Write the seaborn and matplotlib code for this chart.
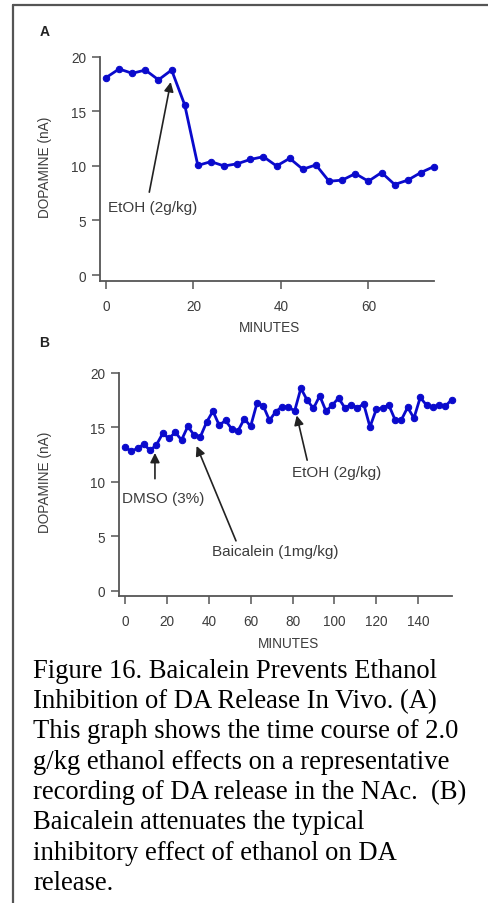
import numpy as np
import matplotlib
matplotlib.use("Agg")
import matplotlib.pyplot as plt
import pandas as pd
import seaborn as sns
from matplotlib.lines import Line2D

# panel A: ethanol alone
minutes_a = [0, 3, 6, 9, 12, 15, 18, 21, 24, 27, 30, 33, 36, 39, 42, 45, 48,
             51, 54, 57, 60, 63, 66, 69, 72, 75]
dopamine_a = [18.1, 18.9, 18.5, 18.8, 17.9, 18.8, 15.6, 10.05, 10.4, 10.0,
              10.2, 10.6, 10.85, 10.0, 10.7, 9.7, 10.1, 8.6, 8.7, 9.3, 8.6,
              9.4, 8.3, 8.7, 9.4, 9.95]

# panel B: DMSO, baicalein, then ethanol
minutes_b = [0, 3, 6, 9, 12, 15, 18, 21, 24, 27, 30, 33, 36, 39, 42, 45, 48,
             51, 54, 57, 60, 63, 66, 69, 72, 75, 78, 81, 84, 87, 90, 93, 96,
             99, 102, 105, 108, 111, 114, 117, 120, 123, 126, 129, 132, 135,
             138, 141, 144, 147, 150, 153, 156]
dopamine_b = [13.2, 12.8, 13.1, 13.45, 12.9, 13.4, 14.45, 14.0, 14.55, 13.85,
              15.1, 14.3, 14.15, 15.5, 16.5, 15.2, 15.65, 14.85, 14.7, 15.8,
              15.1, 17.2, 17.0, 15.65, 16.45, 16.9, 16.9, 16.5, 18.6, 17.5,
              16.75, 17.9, 16.5, 17.05, 17.7, 16.8, 17.1, 16.8, 17.15, 15.05,
              16.65, 16.8, 17.05, 15.7, 15.7, 16.85, 15.85, 17.75, 17.05, 16.9,
              17.05, 16.95, 17.55]

yticks = [0, 5, 10, 15, 20]
xticks_a = [0, 20, 40, 60]
xticks_b = [0, 20, 40, 60, 80, 100, 120, 140]

caption = ("Figure 16. Baicalein Prevents Ethanol\n"
           "Inhibition of DA Release In Vivo. (A)\n"
           "This graph shows the time course of 2.0\n"
           "g/kg ethanol effects on a representative\n"
           "recording of DA release in the NAc.  (B)\n"
           "Baicalein attenuates the typical\n"
           "inhibitory effect of ethanol on DA\n"
           "release.")

sns.set_style("ticks")
plt.rcParams["font.family"] = ["Liberation Sans", "DejaVu Sans"]

W, H = 489, 904
fig = plt.figure(figsize=(W / 100, H / 100), dpi=100)
fig.patch.set_facecolor("white")

BLUE = "#0a0acc"
GREY = "#3c3c3c"
TICK_FS = 9.8
NOTE_FS = 11


def make_axes(left_px, right_px, top_px, bottom_px):
    return fig.add_axes([left_px / W, 1 - bottom_px / H,
                         (right_px - left_px) / W, (bottom_px - top_px) / H])


def style_axes(ax, xmin, xmax, ymin, ymax, xend, xticks):
    ax.set_xlim(xmin, xmax)
    ax.set_ylim(ymin, ymax)
    ax.set_facecolor("none")
    sns.despine(ax=ax)
    for s in ["left", "bottom"]:
        ax.spines[s].set_color("#555555")
        ax.spines[s].set_linewidth(1.3)
    ax.spines["left"].set_bounds(ymin, 20)
    ax.spines["bottom"].set_bounds(xmin, xend)
    ax.set_xticks(xticks)
    ax.set_yticks(yticks)
    ax.tick_params(direction="out", length=5.8, width=1.1, color="#555555",
                   labelsize=TICK_FS, labelcolor=GREY)
    ax.tick_params(axis="x", pad=7)
    ax.tick_params(axis="y", pad=4)
    ax.set_xlabel("MINUTES", fontsize=TICK_FS, color=GREY)
    ax.set_ylabel("DOPAMINE (nA)", fontsize=TICK_FS, color=GREY)


def arrow(ax, tip, tail):
    ax.annotate("", xy=tip, xytext=tail,
                arrowprops=dict(arrowstyle="-|>", color="#222222", lw=1.2,
                                mutation_scale=14, shrinkA=0, shrinkB=0))


# ---- panel A ----
axA = make_axes(100, 440, 52.5, 282)
dfA = pd.DataFrame({"min": minutes_a, "da": dopamine_a})
sns.lineplot(data=dfA, x="min", y="da", ax=axA, color=BLUE, lw=2,
             marker="o", markersize=4.6, markeredgecolor=BLUE, clip_on=False)
style_axes(axA, -1.37, 76.37, -0.55, 20.5, 75, xticks_a)
axA.yaxis.set_label_coords(-0.141, 0.5)
axA.xaxis.set_label_coords(0.5, -0.170)
arrow(axA, (14.8, 17.7), (9.9, 7.6))
axA.text(10.6, 6.2, "EtOH (2g/kg)", ha="center", va="center",
         fontsize=NOTE_FS, color=GREY)
fig.text(45 / W, 1 - 32 / H, "A", fontsize=10, weight="bold",
         color="#222222", ha="center", va="center")

# ---- panel B ----
axB = make_axes(119, 460, 368.5, 597)
dfB = pd.DataFrame({"min": minutes_b, "da": dopamine_b})
sns.lineplot(data=dfB, x="min", y="da", ax=axB, color=BLUE, lw=2,
             marker="o", markersize=4.6, markeredgecolor=BLUE, clip_on=False)
style_axes(axB, -2.87, 160.0, -0.46, 20.5, 156.2, xticks_b)
axB.yaxis.set_label_coords(-0.196, 0.5)
axB.xaxis.set_label_coords(0.496, -0.175)
arrow(axB, (14.3, 12.66), (14.3, 10.3))
axB.text(18.3, 8.5, "DMSO (3%)", ha="center", va="center",
         fontsize=NOTE_FS, color=GREY)
arrow(axB, (34.2, 13.3), (53, 4.6))
axB.text(71.7, 3.7, "Baicalein (1mg/kg)", ha="center", va="center",
         fontsize=NOTE_FS, color=GREY)
arrow(axB, (82, 16.1), (87, 12.0))
axB.text(101, 10.95, "EtOH (2g/kg)", ha="center", va="center",
         fontsize=NOTE_FS, color=GREY)
fig.text(44 / W, 1 - 343 / H, "B", fontsize=10, weight="bold",
         color="#222222", ha="center", va="center")

# ---- caption ----
fig.text(33 / W, 1 - 659 / H, caption, family=["Liberation Serif"],
         fontsize=19.2, color="black", ha="left", va="top",
         linespacing=1.275)

# ---- frame lines ----
fig.add_artist(Line2D([13.5 / W, 1], [1 - 6 / H, 1 - 6 / H],
                      transform=fig.transFigure, color="#555555", lw=1.6))
fig.add_artist(Line2D([13.5 / W, 13.5 / W], [1 - 6 / H, 0],
                      transform=fig.transFigure, color="#555555", lw=1.6))

fig.savefig("out.png", dpi=100)
